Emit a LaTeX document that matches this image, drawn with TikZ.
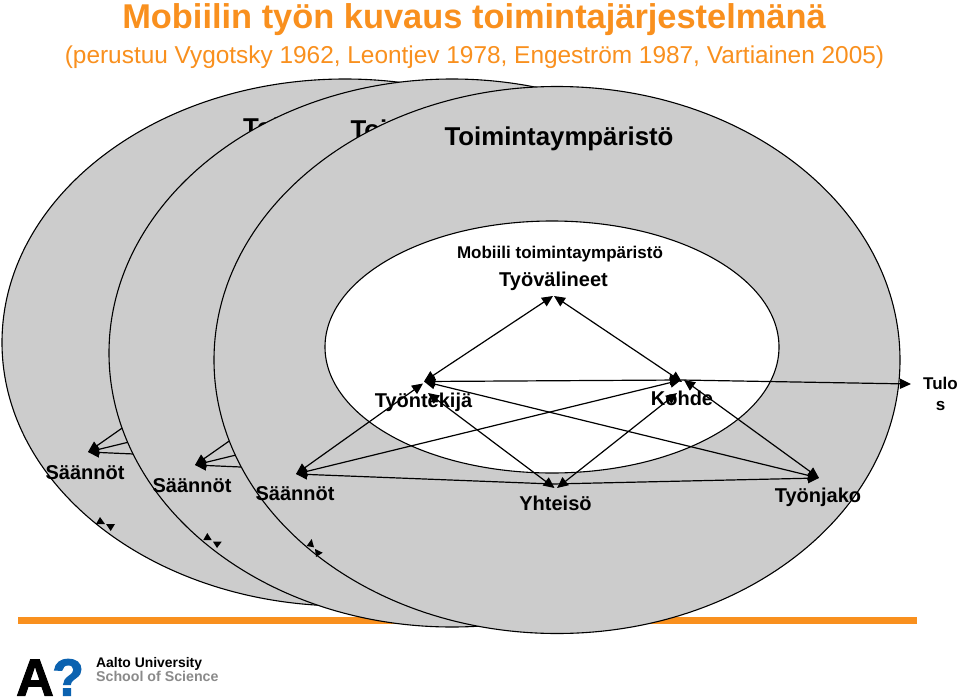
\documentclass[tikz,border=0pt]{standalone}
\usepackage{fontspec}
\setmainfont{Liberation Sans}
\newfontfamily\logofont[BoldFeatures={FakeBold=2}]{Liberation Sans}
\usetikzlibrary{arrows.meta}
\definecolor{bandorange}{HTML}{F9901E}
\definecolor{envgray}{HTML}{CCCCCC}
\definecolor{qblue}{HTML}{0B62B0}
\definecolor{schoolgray}{HTML}{8A8A8A}
\tikzset{
  envring/.style={draw=black,line width=1.1pt,fill=envgray},
  mobilezone/.style={draw=black,line width=1.1pt,fill=white},
  lab/.style={font=\bfseries\fontsize{20}{22}\selectfont,text=black,inner sep=0pt},
  envtitle/.style={font=\bfseries\fontsize{25.8}{27}\selectfont,text=black,inner sep=0pt},
  rel/.style={line width=1.2pt,draw=black,{Triangle[length=11pt,width=10pt]}-{Triangle[length=11pt,width=10pt]}},
  relend/.style={line width=1.2pt,draw=black,-{Triangle[length=11pt,width=10pt]}},
  stub/.style={fill=black,draw=none}
}
% prefix, ellipse centre x, y, radius x, y, title centre x, y, layer shift x, y
\newcommand{\ringlayer}[9]{%
  \fill[envring] (#2,#3) ellipse [x radius=#4,y radius=#5];
  \node[envtitle] (#1title) at (#6,#7) {Toimintaympäristö};
  \begin{scope}[shift={(#8,#9)}]
    \node[lab] (#1rules) at (295,493.5) {Säännöt};
    \coordinate (#1rulesTip) at (298,473);
    \coordinate (#1worker) at (425,384);
    \coordinate (#1object) at (680,380);
    \coordinate (#1community) at (550,484);
    \draw[relend] (#1worker) -- (#1rulesTip);
    \draw[relend] (#1object) -- (#1rulesTip);
    \draw[relend] (#1community) -- (#1rulesTip);
  \end{scope}
}
\begin{document}
\begin{tikzpicture}[x=1pt,y=-1pt]
\useasboundingbox (0,0) rectangle (959,699);
\fill[white] (0,0) rectangle (959,699);

\node[inner sep=0pt,text=bandorange,font=\bfseries\fontsize{34.4}{37}\selectfont] (heading) at (474,20) {Mobiilin työn kuvaus toimintajärjestelmänä};
\node[inner sep=0pt,text=bandorange,font=\fontsize{24.4}{26}\selectfont] (sources) at (474.5,57) {(perustuu Vygotsky 1962, Leontjev 1978, Engeström 1987, Vartiainen 2005)};

\fill[bandorange] (18,617) rectangle (917,624);

\ringlayer{b}{345}{342.5}{343}{263.5}{357.5}{130}{-210}{-21}
\ringlayer{m}{452}{353}{343}{274}{465}{132}{-103}{-8}

\fill[envring] (557,360) ellipse [x radius=343,y radius=273.5];
\fill[mobilezone] (552,347) ellipse [x radius=227,y radius=126];

\node[envtitle] (title) at (559,139) {Toimintaympäristö};
\node[inner sep=0pt,text=black,font=\bfseries\fontsize{17}{19}\selectfont] (mobile) at (560,254.5) {Mobiili toimintaympäristö};
\node[lab] (tools) at (553.5,281) {Työvälineet};
\node[lab] (worker) at (423.5,402.5) {Työntekijä};
\node[lab] (object) at (682,398.5) {Kohde};
\node[lab] (rules) at (295,493.5) {Säännöt};
\node[lab] (community) at (555.5,503.5) {Yhteisö};
\node[lab] (labour) at (818,497) {Työnjako};
\node[inner sep=0pt,align=center,text=black,font=\bfseries\fontsize{17}{21}\selectfont] (outcome) at (940.5,394) {Tulo\\s};

\coordinate (wT) at (424,381.5);
\coordinate (wTa) at (423,383.5);
\coordinate (wTc) at (428,393);
\coordinate (toolsL) at (553,296);
\coordinate (toolsR) at (554,296);
\coordinate (oT) at (681,380);
\coordinate (oTa) at (682,382);
\coordinate (oTb) at (684,380);
\coordinate (oTc) at (677,393);
\coordinate (outT) at (911,384);
\coordinate (rT) at (296,474);
\coordinate (cL) at (554.5,488);
\coordinate (cR) at (557,488);
\coordinate (cT) at (553,484);
\coordinate (lT) at (819,478);

\draw[rel] (wT) -- (toolsL);
\draw[rel] (toolsR) -- (oTa);
\draw[rel] (wT) -- (oT);
\draw[relend] (oT) -- (outT);
\draw[rel] (rT) -- (wTa);
\draw[rel] (rT) -- (oT);
\draw[relend] (cT) -- (rT);
\draw[relend] (cT) -- (lT);
\draw[rel] (wT) -- (lT);
\draw[rel] (wTc) -- (cL);
\draw[rel] (oTc) -- (cR);
\draw[rel] (oTb) -- (lT);

% short loose arrowheads on the rings
\fill[stub] (100,517) -- (96,524) -- (105,524) -- cycle;
\fill[stub] (106,524) -- (115,524) -- (110.7,531) -- cycle;
\fill[stub] (207.3,533) -- (203.3,540) -- (211.7,540) -- cycle;
\fill[stub] (213,541.7) -- (221.7,541.7) -- (217,548) -- cycle;
\fill[stub] (311.7,539) -- (306.7,546) -- (314,547.3) -- cycle;
\fill[stub] (315,549) -- (322.7,552.7) -- (316,557) -- cycle;

\node[inner sep=0pt,anchor=base west,text=black,font=\logofont\bfseries\fontsize{52}{52}\selectfont] (logoA) at (16,695.5) {A};
\node[inner sep=0pt,anchor=base west,text=qblue,font=\logofont\bfseries\fontsize{52}{52}\selectfont] (logoQ) at (52,695.5) {?};
\node[inner sep=0pt,anchor=base west,text=black,font=\bfseries\fontsize{13.9}{15}\selectfont] (aalto) at (96,667) {Aalto University};
\node[inner sep=0pt,anchor=base west,text=schoolgray,font=\bfseries\fontsize{14.2}{15}\selectfont] (school) at (96,681) {School of Science};
\end{tikzpicture}
\end{document}
